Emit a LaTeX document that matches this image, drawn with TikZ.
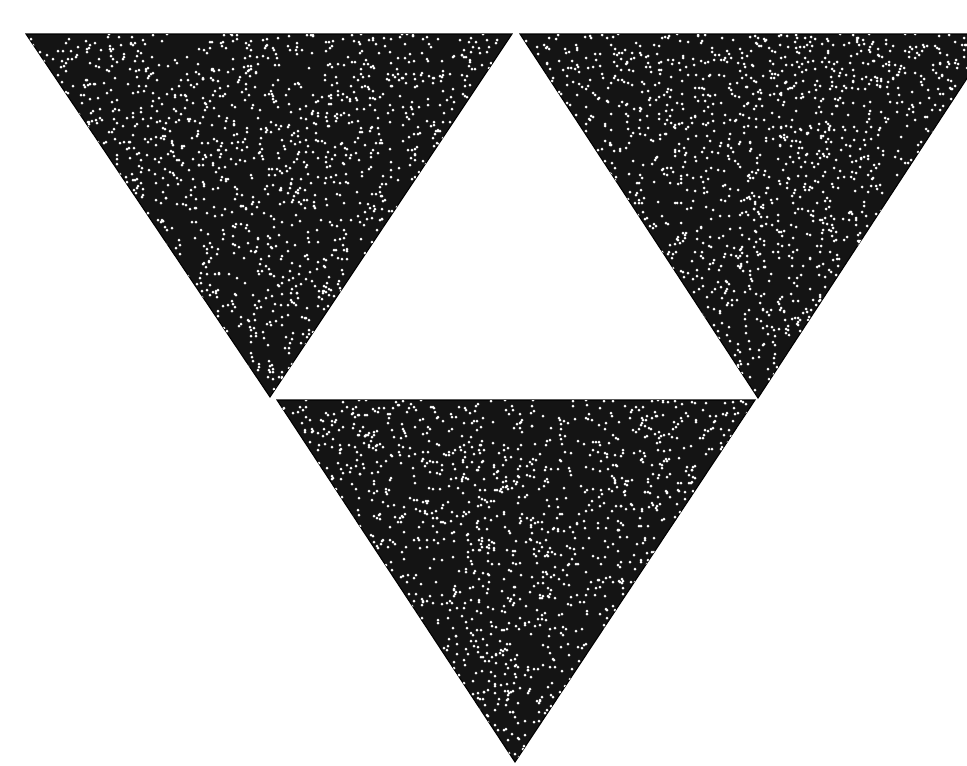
\documentclass[tikz,border=0pt]{standalone}
\begin{document}
\begin{tikzpicture}[x=0.02cm, y=-0.02cm]
    \tikzset{
        piece/.style={fill=black!92, draw=black, line width=0.6pt},
        speck/.style={fill=white}
    }
    \useasboundingbox (0,0) rectangle (967,765);
    \clip (0,0) rectangle (967,765);
    \pgfmathsetseed{4711}

    % corners of the three triangles
    \coordinate (L1) at (26,34);  \coordinate (L2) at (512,34);  \coordinate (L3) at (270,397);
    \coordinate (R1) at (520,34); \coordinate (R2) at (996,34);  \coordinate (R3) at (758,398);
    \coordinate (B1) at (277,400);\coordinate (B2) at (755,400); \coordinate (B3) at (515,762);

    \foreach \a/\b/\c/\xa/\xb/\ya/\yb in {L1/L2/L3/26/512/34/397, R1/R2/R3/520/967/34/398, B1/B2/B3/277/755/400/762}{
        \begin{scope}
            \fill[piece] (\a) -- (\b) -- (\c) -- cycle;
            \clip (\a) -- (\b) -- (\c) -- cycle;
            \foreach \i in {1,...,2400}{
                \pgfmathrandominteger{\px}{\xa}{\xb}
                \pgfmathrandominteger{\py}{\ya}{\yb}
                \fill[speck] (\px,\py) circle (1.5);
            }
        \end{scope}
    }
\end{tikzpicture}
\end{document}
